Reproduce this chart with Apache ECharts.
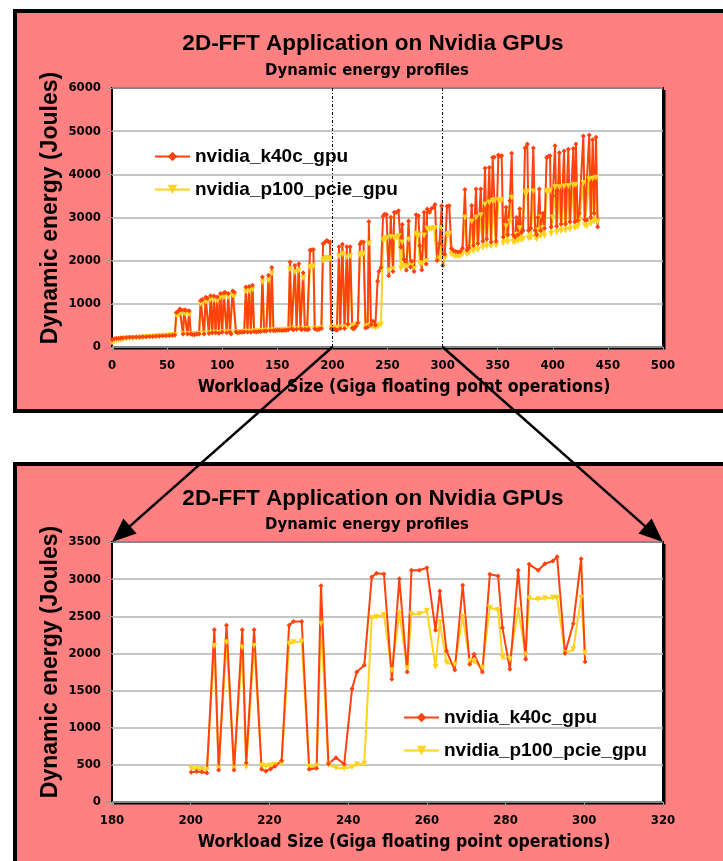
<!DOCTYPE html>
<html>
<head>
<meta charset="utf-8">
<script src="https://cdn.jsdelivr.net/npm/echarts@6/dist/echarts.min.js"></script>
<style>
  html, body { margin: 0; padding: 0; background: #fff; }
  #chart { width: 723px; height: 861px; }
</style>
</head>
<body>
<div id="chart"></div>
<script>
// series names
const seriesNames = ['nvidia_k40c_gpu', 'nvidia_p100_pcie_gpu'];

// k40c, workload 0..199 (top chart only)
const k40cLow = [[0,170],[2,190],[4,200],[6,205],[8,210],[10,215],[13,220],[16,225],[19,225],[22,230],[25,232],[28,235],[31,240],[34,242],[37,245],[40,250],[43,255],[46,258],[49,260],[52,268],[55,275],[57,280],
  [58.5,800],[60,830],[61.5,880],[63,860],[64.5,300],[65.5,860],[67,850],[68.5,300],[70,840],[71.5,300],[73,290],[75,285],[77,300],[79,300],
  [80.5,1080],[82,1100],[83.5,300],[85,1150],[86.5,1130],[88,310],[89.5,1190],[91,330],[92.5,1180],[94,330],[95.5,1160],[97,320],[98.5,1240],[100,340],[101.5,1250],[102.5,1270],[104,330],[105.5,1240],[107,340],[108,300],[109.5,1300],[111,1270],[112.5,350],[114,330],[116,340],[118,340],[120,350],
  [121.5,1390],[123,350],[124.5,1400],[126,340],[127.5,1430],[129,360],[131,350],[133,360],[135,360],[136.5,1620],[138,370],[140,370],[142,1660],[143.5,380],[145,1840],[146.5,380],[148,380],[150,390],[152,390],[154,380],[156,390],[158,390],[160,400],
  [161.5,1970],[163,420],[164.5,400],[166,1890],[167.5,410],[169.5,1930],[171,420],[172,400],[173.5,1720],[175,410],[177,400],[178.5,410],[179.7,2240],[181,2250],[182.7,2260],[184,420],[186,400],[188,410],[190,430],[191.5,2390],[193,2420],[194.8,2470],[196.3,2440],[197.8,2430],[199,420]];

// p100, workload 0..199 (top chart only)
const p100Low = [[0,100],[2,130],[4,150],[6,160],[8,170],[10,180],[13,190],[16,200],[19,205],[22,210],[25,215],[28,220],[31,228],[34,232],[37,238],[40,243],[43,248],[46,252],[49,258],[52,264],[55,270],[57,275],
  [58.5,740],[60,760],[61.5,790],[63,780],[64.5,300],[65.5,780],[67,770],[68.5,300],[70,760],[71.5,300],[73,295],[75,290],[77,300],[79,305],
  [80.5,1000],[82,1020],[83.5,305],[85,1060],[86.5,1050],[88,315],[89.5,1100],[91,330],[92.5,1090],[94,330],[95.5,1080],[97,325],[98.5,1150],[100,340],[101.5,1160],[102.5,1180],[104,335],[105.5,1150],[107,340],[108,305],[109.5,1200],[111,1180],[112.5,350],[114,335],[116,345],[118,345],[120,355],
  [121.5,1290],[123,355],[124.5,1300],[126,345],[127.5,1330],[129,365],[131,355],[133,365],[135,365],[136.5,1500],[138,375],[140,375],[142,1540],[143.5,385],[145,1700],[146.5,385],[148,385],[150,395],[152,395],[154,385],[156,395],[158,395],[160,405],
  [161.5,1800],[163,425],[164.5,405],[166,1730],[167.5,415],[169.5,1770],[171,425],[172,405],[173.5,1600],[175,415],[177,405],[178.5,415],[179.7,1850],[181,1860],[182.7,1870],[184,425],[186,410],[188,415],[190,435],[191.5,2000],[193,2030],[194.8,2060],[196.3,2050],[197.8,2040],[199,440]];

// k40c, workload 200..300 (both charts)
const k40cMid = [[200.1,400],[201.5,410],[202.8,405],[204.1,390],[206.0,2320],[207.1,430],[209.1,2380],[211.0,430],[213.1,2320],[214.1,530],[216.1,2320],[218.0,440],[219.1,415],[220.3,445],[221.4,480],[223.1,560],[225.0,2380],[226.1,2430],[228.2,2430],[230.1,440],[232.0,455],[233.1,2910],[235.0,516],[236.9,597],[239.0,510],[241.0,1526],[242.2,1750],[244.1,1840],[246.0,3029],[247.2,3078],[249.1,3070],[251.1,1651],[253.0,3006],[255.0,1750],[256.1,3119],[258.1,3119],[260.0,3154],[262.2,2311],[263.3,2840],[265.0,2033],[267.1,1777],[269.1,2917],[270.9,1853],[272.0,1988],[274.1,1750],[276.0,3065],[278.1,3042],[279.2,2347],[281.1,1786],[283.2,3119],[285.1,1920],[286.0,3199],[288.3,3119],[290.0,3208],[292.0,3244],[293.1,3302],[295.1,2001],[297.2,2400],[299.2,3275],[300.2,1889]];

// p100, workload 200..300 (both charts)
const p100Mid = [[200.1,450],[201.5,440],[202.8,445],[204.1,435],[206.0,2100],[207.1,450],[209.1,2150],[211.0,450],[213.1,2080],[214.1,470],[216.1,2100],[218.0,490],[219.1,480],[220.3,490],[221.4,500],[223.1,520],[225.0,2130],[226.1,2150],[228.2,2160],[230.1,470],[232.0,480],[233.1,2400],[235.0,500],[236.9,462],[239.0,450],[241.0,471],[242.2,507],[244.1,516],[246.0,2473],[247.2,2491],[249.1,2518],[251.1,1773],[253.0,2548],[255.0,1800],[256.1,2527],[258.1,2530],[260.0,2571],[262.2,1817],[263.3,2423],[265.0,1875],[267.1,1850],[269.1,2490],[270.9,1898],[272.0,1889],[274.1,1808],[276.0,2616],[278.1,2585],[279.2,1943],[281.1,1920],[283.2,2581],[285.1,1988],[286.0,2742],[288.3,2728],[290.0,2742],[292.0,2751],[293.1,2750],[295.1,2001],[297.2,2055],[299.2,2751],[300.2,2010]];

// k40c, workload 301..441 (top chart only)
const k40cHigh = [[302,2150],[304,3260],[306,3270],[308,2280],[310,2230],[312,2210],[314,2200],[316,2210],[318,2290],[320.3,3650],[322,2250],[324,2300],[326.4,3280],[328,2350],[330.3,3660],[332,2400],[334.6,3660],[336.5,2450],[338.5,4140],[340,2500],[342.4,4160],[344,2430],[345.4,4390],[347,4400],[348.5,2450],[350.6,4450],[352,4420],[353.6,4430],[355,2550],[357.6,3240],[359,2600],[361,3390],[362.7,4490],[364,2600],[365.7,2550],[367,3000],[368.5,2600],[370,3200],[371.5,2650],[373,2700],[374.8,4610],[376.9,4700],[378,2700],[380,2750],[382.3,4610],[384,2700],[385.4,2600],[386.5,3000],[387.8,3660],[389,2700],[391,3100],[392.5,2750],[394.4,4390],[396,4420],[397.5,4430],[398.5,2780],[400,3500],[402,4660],[403.5,2800],[405.9,4500],[407.5,2850],[410.2,4540],[411.5,2850],[414.1,4580],[415.5,2900],[418.6,4600],[420,2900],[421,4700],[422.5,2930],[424,3100],[427.7,4890],[429,2950],[430.8,2940],[433.1,4910],[434.5,3000],[436.2,4800],[437.5,3100],[439.2,4860],[440.7,2780]];

// p100, workload 301..441 (top chart only)
const p100High = [[302,2050],[304,2600],[306,2620],[308,2150],[310,2120],[312,2100],[314,2100],[316,2110],[318,2150],[320.3,3000],[322,2150],[324,2180],[326.4,2900],[328,2220],[330.3,3000],[332,2250],[334.6,3050],[336.5,2300],[338.5,3300],[340,2330],[342.4,3350],[344,2330],[345.4,3380],[347,3400],[348.5,2350],[350.6,3400],[352,3400],[353.6,3400],[355,2400],[357.6,2800],[359,2420],[361,2900],[362.7,3450],[364,2430],[365.7,2430],[367,2600],[368.5,2450],[370,2750],[371.5,2480],[373,2500],[374.8,3580],[376.9,3600],[378,2520],[380,2530],[382.3,3600],[384,2540],[385.4,2500],[386.5,2700],[387.8,3000],[389,2560],[391,2750],[392.5,2580],[394.4,3600],[396,3620],[397.5,3620],[398.5,2620],[400,3000],[402,3700],[403.5,2650],[405.9,3700],[407.5,2680],[410.2,3720],[411.5,2700],[414.1,3730],[415.5,2720],[418.6,3750],[420,2750],[421,3760],[422.5,2780],[424,2900],[427.7,3800],[429,2820],[430.8,2800],[433.1,3880],[434.5,2850],[436.2,3900],[437.5,2900],[439.2,3920],[440.7,2900]];

// zoom window marked on the top chart
const zoomRange = [200, 300];

const RED = '#ff420e';
const YELLOW = '#ffd320';
const PANEL = '#ff8080';
const TRI_DOWN = 'path://M0,0 L10,0 L5,10 Z';

const gridTop = { left: 112, top: 88, width: 551, height: 259 };
const gridBot = { left: 112, top: 542, width: 551, height: 260 };

const tickFont = { fontFamily: 'DejaVu Sans Condensed', fontWeight: 'bold', fontSize: 13, color: '#000', formatter: v => String(v) };

function makeX(idx, min, max, interval) {
  return {
    type: 'value', gridIndex: idx, min: min, max: max, interval: interval,
    axisLine: { show: false },
    axisTick: { show: true, length: 5, lineStyle: { color: '#999' } },
    splitLine: { show: false },
    axisLabel: Object.assign({ margin: 12 }, tickFont)
  };
}
function makeY(idx, max, interval) {
  return {
    type: 'value', gridIndex: idx, min: 0, max: max, interval: interval,
    axisLine: { show: false },
    axisTick: { show: true, length: 5, lineStyle: { color: '#999' } },
    splitLine: { show: true, lineStyle: { color: '#b3b3b3', width: 1.5 } },
    axisLabel: Object.assign({ margin: 11 }, tickFont)
  };
}
function lineSeries(name, idx, data, color, symbol, size) {
  return {
    name: name, type: 'line', xAxisIndex: idx, yAxisIndex: idx,
    data: data, symbol: symbol, symbolSize: size,
    itemStyle: { color: color }, lineStyle: { color: color, width: 2 },
    animation: false
  };
}

const chart = echarts.init(document.getElementById('chart'));

const topRed = lineSeries(seriesNames[0], 0, k40cLow.concat(k40cMid, k40cHigh), RED, 'diamond', 5);
topRed.markLine = {
  silent: true, symbol: ['none', 'none'], label: { show: false },
  lineStyle: { color: '#000', type: [3, 2, 1, 2], width: 1 },
  data: zoomRange.map(v => ({ xAxis: v }))
};

const legendText = { fontFamily: 'Liberation Sans', fontWeight: 'bold', fontSize: 19, color: '#000' };

chart.setOption({
  backgroundColor: '#fff',
  animation: false,
  grid: [
    Object.assign({ show: true, backgroundColor: '#fff', borderColor: '#000', borderWidth: 2 }, gridTop),
    Object.assign({ show: true, backgroundColor: '#fff', borderColor: '#000', borderWidth: 2 }, gridBot)
  ],
  xAxis: [makeX(0, 0, 500, 50), makeX(1, 180, 320, 20)],
  yAxis: [makeY(0, 6000, 1000), makeY(1, 3500, 500)],
  legend: [
    { data: seriesNames, orient: 'vertical', left: 149, top: 142, itemWidth: 35, itemHeight: 12, itemGap: 14, textStyle: legendText },
    { data: seriesNames, orient: 'vertical', left: 398, top: 703, itemWidth: 35, itemHeight: 12, itemGap: 14, textStyle: legendText }
  ],
  series: [
    lineSeries(seriesNames[1], 0, p100Low.concat(p100Mid, p100High), YELLOW, TRI_DOWN, 6),
    topRed,
    lineSeries(seriesNames[1], 1, p100Mid, YELLOW, TRI_DOWN, 6),
    lineSeries(seriesNames[0], 1, k40cMid, RED, 'diamond', 5)
  ]
});

// arrows from the zoom window on the top chart to the corners of the bottom chart
function arrow(from, to) {
  const dx = to[0] - from[0], dy = to[1] - from[1];
  const len = Math.sqrt(dx * dx + dy * dy);
  const ux = dx / len, uy = dy / len;
  const headL = 24, headW = 10;
  const bx = to[0] - ux * headL, by = to[1] - uy * headL;
  return [
    { type: 'line', z: 50, shape: { x1: from[0], y1: from[1], x2: bx, y2: by }, style: { stroke: '#000', lineWidth: 2.5 } },
    { type: 'polygon', z: 50, shape: { points: [to, [bx - uy * headW, by + ux * headW], [bx + uy * headW, by - ux * headW]] }, style: { fill: '#000' } }
  ];
}

const a0 = chart.convertToPixel({ gridIndex: 0 }, [zoomRange[0], 0]);
const a1 = chart.convertToPixel({ gridIndex: 0 }, [zoomRange[1], 0]);
const b0 = chart.convertToPixel({ gridIndex: 1 }, [180, 3500]);
const b1 = chart.convertToPixel({ gridIndex: 1 }, [320, 3500]);

function shadow(g) {
  const r = g.left + g.width, b = g.top + g.height;
  return { type: 'polyline', z: -5, shape: { points: [[r + 1, g.top + 2], [r + 1, b + 1], [g.left + 2, b + 1]] }, style: { stroke: '#000', lineWidth: 3, fill: null } };
}
function text(str, x, y, font, rot) {
  return { type: 'text', z: 20, x: x, y: y, rotation: rot || 0, style: { text: str, font: font, fill: '#000', align: 'center', verticalAlign: 'middle' } };
}

const titleFont = 'bold 22.5px "Liberation Sans"';
const subFont = 'bold 16.5px "DejaVu Sans Condensed"';
const yNameFont = 'bold 23px "Liberation Sans"';
const xNameFont = 'bold 17.5px "DejaVu Sans Condensed"';

const graphics = [
  { type: 'rect', z: -10, shape: { x: 15, y: 11, width: 720, height: 400 }, style: { fill: PANEL, stroke: '#000', lineWidth: 4 } },
  { type: 'rect', z: -10, shape: { x: 15, y: 464, width: 720, height: 420 }, style: { fill: PANEL, stroke: '#000', lineWidth: 4 } },
  shadow(gridTop), shadow(gridBot),
  text('2D-FFT Application on Nvidia GPUs', 373, 44, titleFont),
  text('Dynamic energy profiles', 367, 71, subFont),
  text('Dynamic energy (Joules)', 51, 208, yNameFont, Math.PI / 2),
  text('Workload Size (Giga floating point operations)', 404, 387, xNameFont),
  text('2D-FFT Application on Nvidia GPUs', 373, 499, titleFont),
  text('Dynamic energy profiles', 367, 525, subFont),
  text('Dynamic energy (Joules)', 51, 662, yNameFont, Math.PI / 2),
  text('Workload Size (Giga floating point operations)', 404, 842, xNameFont)
].concat(arrow(a0, b0), arrow(a1, b1));

chart.setOption({ graphic: graphics });
</script>
</body>
</html>
